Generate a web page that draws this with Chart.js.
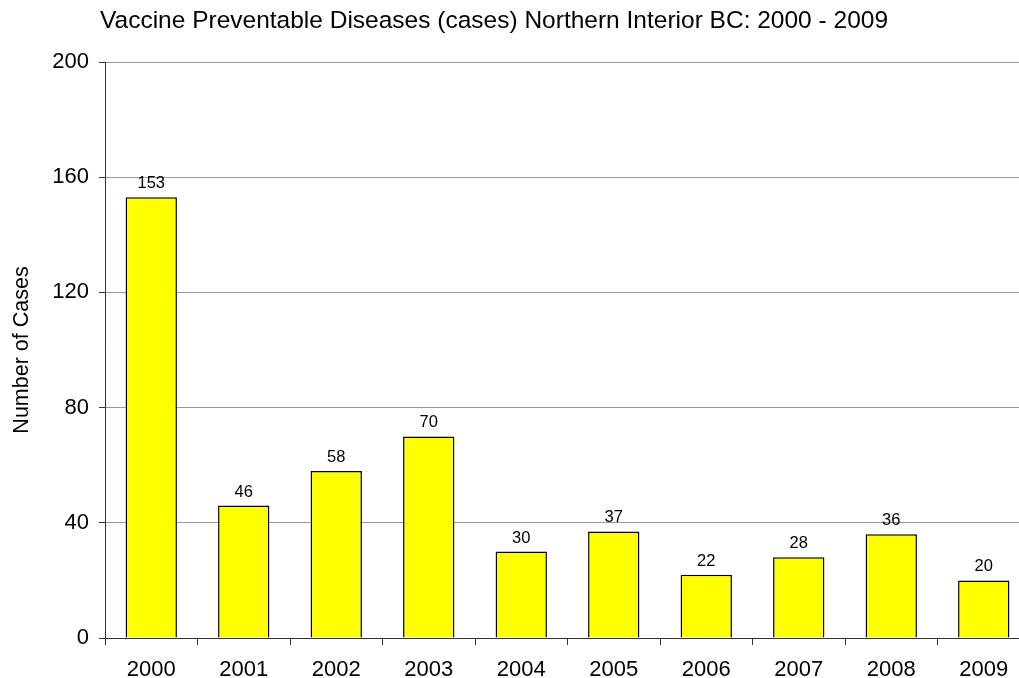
<!DOCTYPE html>
<html>
<head>
<meta charset="utf-8">
<script src="https://cdn.jsdelivr.net/npm/chart.js@4"></script>
<style>
  html, body { margin: 0; padding: 0; background: #fff; overflow: hidden; }
  #wrap { position: relative; width: 1040px; height: 678px; }
</style>
</head>
<body>
<div id="wrap"><canvas id="chart"></canvas></div>
<script>
// data
const years = ['2000', '2001', '2002', '2003', '2004', '2005', '2006', '2007', '2008', '2009'];
const cases = [153, 46, 58, 70, 30, 37, 22, 28, 36, 20];
const yTicks = [0, 40, 80, 120, 160, 200];

const chartTitle = 'Vaccine Preventable Diseases (cases) Northern Interior BC: 2000 - 2009';
const yTitle = 'Number of Cases';
const fontName = '"Liberation Sans", Arial, sans-serif';

// title, y axis title and value labels over bars
const textPlugin = {
    id: 'textPlugin',
    afterDatasetsDraw(chart) {
        const ctx = chart.ctx;
        ctx.save();
        ctx.fillStyle = '#000';
        ctx.textBaseline = 'alphabetic';

        ctx.font = '24.5px ' + fontName;
        ctx.textAlign = 'left';
        ctx.fillText(chartTitle, 100, 28);

        ctx.save();
        ctx.font = '21.5px ' + fontName;
        ctx.translate(28, 350);
        ctx.rotate(-Math.PI / 2);
        ctx.textAlign = 'center';
        ctx.fillText(yTitle, 0, 0);
        ctx.restore();

        ctx.font = '16.5px ' + fontName;
        ctx.textAlign = 'center';
        const meta = chart.getDatasetMeta(0);
        meta.data.forEach((bar, i) => {
            ctx.fillText(cases[i], bar.x, bar.y - 9);
        });
        ctx.restore();
    }
};

new Chart(document.getElementById('chart'), {
    type: 'bar',
    data: {
        labels: years,
        datasets: [{
            label: 'Cases',
            data: cases,
            backgroundColor: '#FFFF00',
            borderColor: '#000',
            borderWidth: 1.5,
            categoryPercentage: 1,
            barPercentage: 0.555
        }]
    },
    options: {
        responsive: true,
        maintainAspectRatio: false,
        animation: false,
        layout: { padding: { top: 62, right: 10, left: 0, bottom: 0 } },
        plugins: {
            legend: { display: false },
            title: { display: false },
            tooltip: { enabled: false }
        },
        scales: {
            x: {
                offset: true,
                grid: { drawOnChartArea: false, drawTicks: true, tickLength: 7, color: '#333', offset: true },
                border: { color: '#333', width: 1 },
                ticks: { color: '#000', font: { family: fontName, size: 22 }, padding: 12, maxRotation: 0 },
                afterFit(scale) { scale.height = 40; }
            },
            y: {
                min: 0,
                max: 200,
                afterBuildTicks(scale) { scale.ticks = yTicks.map(v => ({ value: v })); },
                grid: { color: '#999', lineWidth: 1, tickLength: 6, tickColor: '#333' },
                border: { color: '#333', width: 1 },
                ticks: { color: '#000', font: { family: fontName, size: 22 }, padding: 10 },
                afterFit(scale) { scale.width = 105; }
            }
        }
    },
    plugins: [textPlugin]
});
</script>
</body>
</html>
